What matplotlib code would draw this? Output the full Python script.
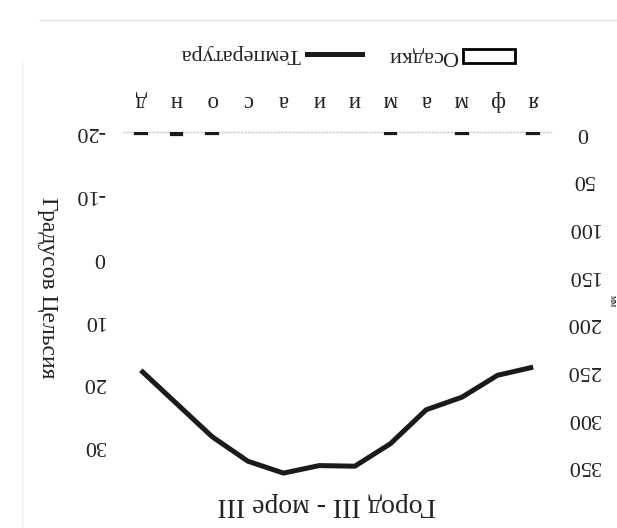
import matplotlib
matplotlib.use('Agg')
import matplotlib.pyplot as plt
import numpy as np
from matplotlib.patches import Rectangle
from matplotlib.lines import Line2D

# ---- data (chart is scanned upside-down, so it is drawn rotated by 180°) ----
months = ['я', 'ф', 'м', 'а', 'м', 'и', 'и', 'а', 'с', 'о', 'н', 'д']
precip_mm = [2, 0, 2, 0, 2, 0, 0, 0, 0, 2, 3, 2]
temp_c = [17.5, 18.8, 22.3, 24.3, 29.7, 33.3, 33.2, 34.4, 32.5, 28.6, 23.3, 18.0]
precip_ticks = [0, 50, 100, 150, 200, 250, 300, 350]
temp_ticks = [-20, -10, 0, 10, 20, 30]
title = 'Город III - море III'
temp_label = 'Градусов Цельсия'
precip_label = 'мм'
legend_labels = ['Осадки', 'Температура']

plt.rcParams['font.family'] = ['Liberation Serif', 'DejaVu Serif']
TXT = '#222222'

W, H = 617, 528
fig = plt.figure(figsize=(W / 100, H / 100), dpi=100)
fig.patch.set_facecolor('white')

def fx(px):
    return px / W

def fy(py):
    return 1 - py / H

L, R, T, B = 123, 551, 132, 480
ax = fig.add_axes([fx(L), fy(B), fx(R) - fx(L), (B - T) / H])
x = np.arange(len(months))
lws = [1.6 if v > 0 else 0 for v in precip_mm]
ax.bar(x, precip_mm, width=0.32, facecolor='#1a1a1a', edgecolor='#1a1a1a',
       linewidth=lws, zorder=3)
ax.set_xlim(11.5, -0.5)
ax.set_ylim(365, 0)

ax2 = ax.twinx()
ax2.plot(x, temp_c, color='#1a1a1a', lw=3.6, solid_joinstyle='round', solid_capstyle='butt')
ax2.set_ylim(35.5, -20)

# axes styling
for a in (ax, ax2):
    for s in a.spines.values():
        s.set_visible(False)
ax.spines['top'].set_visible(True)
ax.spines['top'].set_color('#cfcfcf')
ax.spines['top'].set_linestyle(':')
ax.spines['top'].set_linewidth(1.0)

# month labels (top in image)
ax.xaxis.tick_top()
ax.set_xticks(x)
ax.set_xticklabels(months, rotation=180, fontsize=16.5, color=TXT)
ax.tick_params(axis='x', length=0, pad=15)

# precipitation axis (right in image)
ax.yaxis.tick_right()
ax.set_yticks(precip_ticks)
ax.set_yticklabels([str(v) for v in precip_ticks], rotation=180, fontsize=16,
                   color=TXT, ha='center', va='center')
ax.tick_params(axis='y', length=0, pad=23)

# temperature axis (left in image)
ax2.yaxis.tick_left()
ax2.set_yticks(temp_ticks)
ax2.set_yticklabels([str(v) for v in temp_ticks], rotation=180, fontsize=16,
                    color=TXT, ha='right', va='center')
ax2.tick_params(axis='y', length=0, pad=13)

# titles / axis labels
fig.text(fx(327), fy(505), title, rotation=180, ha='center', va='center',
         fontsize=20, color=TXT)
fig.text(fx(47), fy(288), temp_label, rotation=270, ha='center', va='center',
         fontsize=17, color=TXT)
fig.text(fx(612), fy(301), precip_label, rotation=270, ha='center', va='center',
         fontsize=7, color=TXT)

# legend (drawn rotated by 180°)
ly = 56
fig.add_artist(Rectangle((fx(463), fy(ly + 6.5)), fx(52), 13 / H,
                         transform=fig.transFigure, facecolor='white',
                         edgecolor='black', linewidth=2.0))
fig.text(fx(423), fy(ly), legend_labels[0], rotation=180, ha='center', va='center',
         fontsize=16, color=TXT)
fig.add_artist(Line2D([fx(307), fx(362)], [fy(ly - 2), fy(ly - 2)], transform=fig.transFigure,
                      color='#1a1a1a', lw=3.6))
fig.text(fx(240), fy(ly - 3), legend_labels[1], rotation=180, ha='center', va='center',
         fontsize=16, color=TXT)

# faint page edges from the scan
fig.add_artist(Line2D([fx(40), fx(617)], [fy(20), fy(20)], transform=fig.transFigure,
                      color='#e4e4e4', lw=1.0))
fig.add_artist(Line2D([fx(22), fx(22)], [fy(60), fy(528)], transform=fig.transFigure,
                      color='#eeeeee', lw=1.0))

fig.savefig('out.png', dpi=100, facecolor='white')
